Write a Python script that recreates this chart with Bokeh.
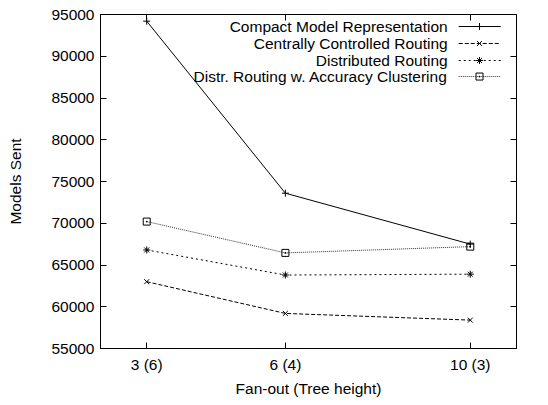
from bokeh.plotting import figure
from bokeh.models import FixedTicker, LinearAxis, Range1d, NumeralTickFormatter, Label, CustomJSTickFormatter
from bokeh.embed import file_html
from bokeh.resources import INLINE

# ---- data ----
fanout = [3, 6, 10]
fanout_labels = ["3 (6)", "6 (4)", "10 (3)"]
compact = [94200, 73600, 67500]
central = [63000, 59200, 58400]
distributed = [66800, 63800, 63900]
distr_cluster = [70200, 66450, 67200]
series_names = ["Compact Model Representation", "Centrally Controlled Routing",
                "Distributed Routing", "Distr. Routing w. Accuracy Clustering"]
y_ticks = [55000, 60000, 65000, 70000, 75000, 80000, 85000, 90000, 95000]

FONT = "Liberation Sans"
FS = "15.5px"

p = figure(width=548, height=405, output_backend="svg", toolbar_location=None,
           x_range=Range1d(2, 11), y_range=Range1d(55000, 95000),
           min_border_left=100, min_border_right=32, min_border_top=14, min_border_bottom=57)
p.background_fill_color = "white"
p.border_fill_color = "white"
p.outline_line_color = "black"
p.outline_line_width = 1
p.grid.visible = False

for ax in (p.xaxis[0], p.yaxis[0]):
    ax.major_tick_in = 6
    ax.major_tick_out = 0
    ax.minor_tick_in = 0
    ax.minor_tick_out = 0
    ax.major_label_text_font = FONT
    ax.major_label_text_font_size = FS
    ax.major_label_text_color = "black"
    ax.axis_label_text_font = FONT
    ax.axis_label_text_font_size = FS
    ax.axis_label_text_font_style = "normal"
    ax.axis_label_text_color = "black"
    ax.axis_line_color = "black"
    ax.major_tick_line_color = "black"

p.xaxis.ticker = FixedTicker(ticks=fanout)
p.xaxis.major_label_overrides = {f: l for f, l in zip(fanout, fanout_labels)}
p.xaxis.axis_label = "Fan-out (Tree height)"
p.xaxis.major_label_standoff = 7
p.xaxis.axis_label_standoff = 4

p.yaxis.ticker = FixedTicker(ticks=y_ticks)
p.yaxis.formatter = NumeralTickFormatter(format="0")
p.yaxis.axis_label = "Models Sent"
p.yaxis.major_label_standoff = 6
p.yaxis.axis_label_standoff = 24

# mirror axes (ticks only, no labels)
blank = CustomJSTickFormatter(code="return ''")
rax = LinearAxis(ticker=FixedTicker(ticks=y_ticks), major_tick_in=6, major_tick_out=0,
                 minor_tick_in=0, minor_tick_out=0, formatter=blank,
                 major_label_standoff=0, axis_line_color=None)
tax = LinearAxis(ticker=FixedTicker(ticks=fanout), major_tick_in=6, major_tick_out=0,
                 minor_tick_in=0, minor_tick_out=0, formatter=blank,
                 major_label_standoff=0, axis_line_color=None)
p.add_layout(rax, "right")
p.add_layout(tax, "above")

styles = [
    dict(dash="solid", marker="cross", color="black"),
    dict(dash="4 2", marker="x", color="black"),
    dict(dash="2 3", marker="asterisk", color="black"),
    dict(dash="1 1", marker="square_dot", color="#333333"),
]
data = [compact, central, distributed, distr_cluster]

for vals, st in zip(data, styles):
    p.line(fanout, vals, line_color=st["color"], line_width=1, line_dash=st["dash"])
    p.scatter(fanout, vals, marker=st["marker"], size=7, line_color="black",
              fill_color=None, line_width=1)

# manual gnuplot-style key (layout positions in data coords)
key_text_x = 9.51
key_x0, key_x1, key_xm = 9.75, 10.66, 10.2
key_ys = [93560, 91530, 89490, 87570]
for name, ky, st in zip(series_names, key_ys, styles):
    p.add_layout(Label(x=key_text_x, y=ky, text=name, text_align="right",
                       text_baseline="middle", text_font=FONT, text_font_size=FS,
                       text_color="black"))
    p.line([key_x0, key_x1], [ky, ky], line_color=st["color"], line_width=1,
           line_dash=st["dash"])
    p.scatter([key_xm], [ky], marker=st["marker"], size=7, line_color="black",
              fill_color=None, line_width=1)

open("out.html", "w").write(file_html(p, INLINE))
